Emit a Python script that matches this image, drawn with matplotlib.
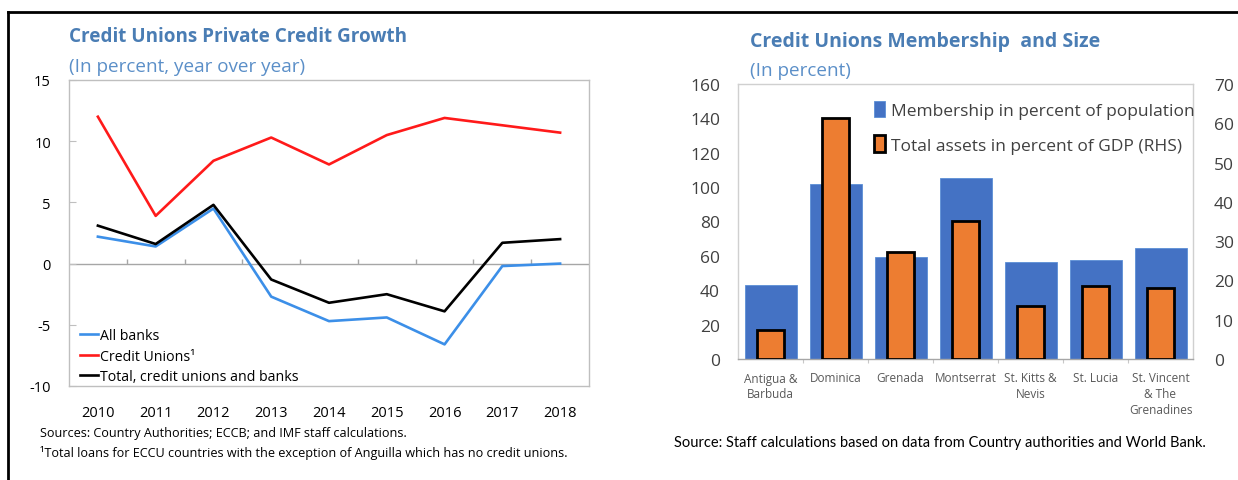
import matplotlib
matplotlib.use("Agg")
import matplotlib.pyplot as plt
import numpy as np
from matplotlib.lines import Line2D
from matplotlib.patches import Patch

plt.rcParams["font.family"] = ["Open Sans", "DejaVu Sans"]

# left panel: private credit growth, % y/y
years = ["2010", "2011", "2012", "2013", "2014", "2015", "2016", "2017", "2018"]
all_banks = [2.2, 1.4, 4.5, -2.7, -4.7, -4.4, -6.6, -0.2, 0.0]
credit_unions = [12.0, 3.9, 8.4, 10.3, 8.1, 10.5, 11.9, 11.3, 10.7]
total = [3.1, 1.6, 4.8, -1.3, -3.2, -2.5, -3.9, 1.7, 2.0]
left_yticks = [-10, -5, 0, 5, 10, 15]

# right panel: membership (LHS) and assets (RHS)
countries = ["Antigua &\nBarbuda", "Dominica", "Grenada", "Montserrat",
             "St. Kitts &\nNevis", "St. Lucia", "St. Vincent\n& The\nGrenadines"]
membership = [42.8, 102.0, 59.6, 105.5, 56.6, 57.8, 64.6]
assets_gdp = [7.5, 61.4, 27.2, 35.2, 13.5, 18.5, 18.1]
lhs_ticks = [0, 20, 40, 60, 80, 100, 120, 140, 160]
rhs_ticks = [0, 10, 20, 30, 40, 50, 60, 70]

TITLE_BLUE = "#4a7db4"
SUB_BLUE = "#5b8fc8"
FRAME = "#bfbfbf"

W, H = 1238, 481
fig = plt.figure(figsize=(W / 100, H / 100), dpi=100)


def fx(px):
    return px / W


def fy(px):
    return 1 - px / H


# outer frame (top and left edges)
fig.add_artist(Line2D([fx(8), 1], [fy(13), fy(13)], color="black", lw=2))
fig.add_artist(Line2D([fx(8), fx(8)], [0, fy(13)], color="black", lw=2))

# ---------------- left chart ----------------
ax = fig.add_axes([fx(69), fy(387), fx(589) - fx(69), fy(81) - fy(387)])
x = np.arange(len(years))
ax.plot(x, all_banks, color="#3c8fe8", lw=1.9, label="All banks")
ax.plot(x, credit_unions, color="#ff1a1a", lw=1.9, label="Credit Unions\u00b9")
ax.plot(x, total, color="black", lw=1.9, label="Total, credit unions and banks")
ax.set_xlim(-0.5, len(years) - 0.5)
ax.set_ylim(-10, 15)
ax.set_yticks(left_yticks)
ax.set_yticklabels([str(v) for v in left_yticks])
ax.set_xticks(x)
ax.set_xticklabels(years)
ax.tick_params(axis="x", length=0, pad=14, labelsize=10.5)
ax.tick_params(axis="y", direction="in", length=5, color=FRAME, pad=13, labelsize=10.5)
for s in ax.spines.values():
    s.set_color(FRAME)
    s.set_linewidth(1.0)
ax.axhline(0, color="#a6a6a6", lw=1.0, zorder=1)
ax.vlines(x[:-1] + 0.5, 0, 0.4, color="#a6a6a6", lw=1.0, zorder=1)
leg = ax.legend(loc="lower left", bbox_to_anchor=(0.01, -0.012), frameon=False,
                fontsize=10.2, handlelength=1.3, handletextpad=0.1,
                labelspacing=0.38, borderaxespad=0.0)

fig.text(fx(69), fy(37), "Credit Unions Private Credit Growth", color=TITLE_BLUE,
         fontsize=13.6, fontweight="bold", va="center", ha="left")
fig.text(fx(69), fy(67), "(In percent, year over year)", color=SUB_BLUE,
         fontsize=13.6, va="center", ha="left")
fig.text(fx(40), fy(434), "Sources: Country Authorities; ECCB; and IMF staff calculations.",
         fontsize=9.1, va="center", ha="left")
fig.text(fx(40), fy(453), "\u00b9Total loans for ECCU countries with the exception of Anguilla which has no credit unions.",
         fontsize=9.1, va="center", ha="left")

# ---------------- right chart ----------------
bx = fig.add_axes([fx(738), fy(360), fx(1193) - fx(738), fy(85) - fy(360)])
c = np.arange(len(countries))
bx.bar(c, membership, width=0.8, color="#4472c4", edgecolor="#5b8fd6", lw=0.6, zorder=2)
bx.set_xlim(-0.5, len(countries) - 0.5)
bx.set_ylim(0, 160)
bx.set_yticks(lhs_ticks)
bx.set_xticks(c)
bx.set_xticklabels(countries, fontsize=8.5, color="#595959", linespacing=1.3, va="top")
bx.tick_params(axis="x", length=0, pad=9)
bx.tick_params(axis="y", length=0, pad=13, labelsize=12.5, labelcolor="#404040")
for s in bx.spines.values():
    s.set_color("#d0d0d0")
    s.set_linewidth(1.0)
bx.spines["bottom"].set_color("#a6a6a6")
bx.vlines(c[:-1] + 0.5, -2.5, 0, color="#c8c8c8", lw=0.8, clip_on=False)

rx = bx.twinx()
rx.bar(c, assets_gdp, width=0.43, color="#ed7d31", edgecolor="black", lw=2.0, zorder=3)
rx.set_ylim(0, 70)
rx.set_yticks(rhs_ticks)
rx.tick_params(axis="y", length=0, pad=15, labelsize=12.5, labelcolor="#404040")
for s in rx.spines.values():
    s.set_visible(False)

handles = [Patch(facecolor="#4472c4", edgecolor="#5b8fd6", lw=0.6),
           Patch(facecolor="#ed7d31", edgecolor="black", lw=2.0)]
rx.legend(handles, ["Membership in percent of population", "Total assets in percent of GDP (RHS)"],
          loc="upper left", bbox_to_anchor=(0.283, 0.965), frameon=False, fontsize=12.5,
          handlelength=0.65, handleheight=1.1, handletextpad=0.35, labelspacing=0.95,
          borderaxespad=0.0, labelcolor="#404040")

fig.text(fx(750), fy(42), "Credit Unions Membership  and Size", color=TITLE_BLUE,
         fontsize=14, fontweight="bold", va="center", ha="left")
fig.text(fx(750), fy(71), "(In percent)", color=SUB_BLUE, fontsize=13.6, va="center", ha="left")
fig.text(fx(674), fy(443), "Source: Staff calculations based on data from Country authorities and World Bank.",
         fontsize=10.5, family=["Lato", "DejaVu Sans"], va="center", ha="left")

fig.savefig("out.png", dpi=100)
